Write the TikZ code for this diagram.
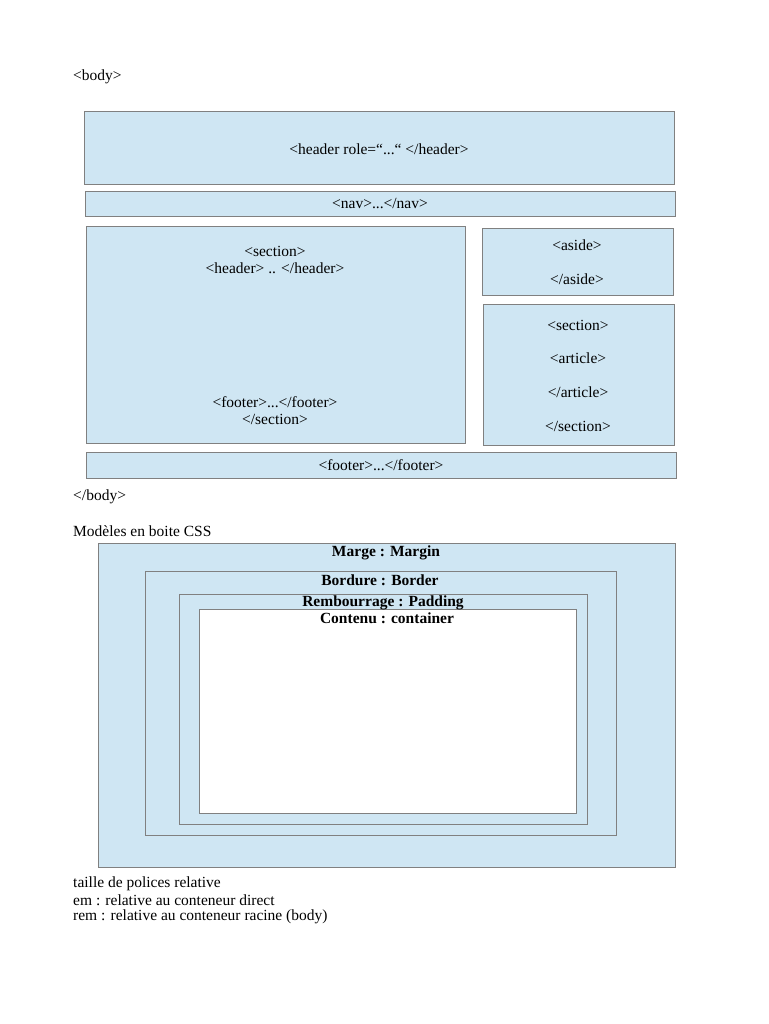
\documentclass[tikz,border=0pt]{standalone}
\usepackage{fontspec}
\setmainfont{Liberation Serif}
\usepackage{tikz}
\usepackage{color}

\definecolor{bleuclair}{RGB}{207,230,243}
\definecolor{grisbord}{RGB}{128,128,128}

\tikzset{
  boite/.style={draw=grisbord,fill=bleuclair,line width=0.8pt},
  contenu/.style={draw=grisbord,fill=white,line width=0.8pt},
  texte/.style={inner sep=0pt,font=\fontsize{15.5}{18}\selectfont},
  gauche/.style={texte,anchor=west},
  gras/.style={texte,font=\fontsize{15.5}{18}\selectfont\bfseries}
}

\begin{document}
\begin{tikzpicture}[x=1pt,y=-1pt]
    \useasboundingbox (0,0) rectangle (768,1024);
    % structure de la page
    \node[gauche] (body) at (73,77) {<body>};
    \draw[boite] (84,111) rectangle (674,184);
    \node[texte] (header) at (379,149) {<header role=“...“ </header>};
    \draw[boite] (85,191) rectangle (675,216);
    \node[texte] (nav) at (380,204) {<nav>...</nav>};
    \draw[boite] (86,226) rectangle (465,443);
    \node[texte] (secA) at (275,251) {<section>};
    \node[texte] (secB) at (275,268) {<header> .. </header>};
    \node[texte] (secC) at (275,402) {<footer>...</footer>};
    \node[texte] (secD) at (275,419) {</section>};
    \draw[boite] (482,228) rectangle (673,295);
    \node[texte] (asideA) at (577,245) {<aside>};
    \node[texte] (asideB) at (577,279) {</aside>};
    \draw[boite] (483,304) rectangle (674,445);
    \node[texte] (artA) at (578,325) {<section>};
    \node[texte] (artB) at (578,358) {<article>};
    \node[texte] (artC) at (578,392) {</article>};
    \node[texte] (artD) at (578,426) {</section>};
    \draw[boite] (86,452) rectangle (676,478);
    \node[texte] (footer) at (381,465) {<footer>...</footer>};
    \node[gauche] (finbody) at (73,497) {</body>};
    % modele en boite
    \node[gauche] (modeles) at (73,531) {Modèles en boite CSS};
    \draw[boite] (98,543) rectangle (675,867);
    \draw[boite] (145,571) rectangle (616,835);
    \draw[boite] (179,594) rectangle (587,824);
    \draw[contenu] (199,609) rectangle (576,813);
    \node[gras] (marge) at (386,553) {Marge : Margin};
    \node[gras] (bordure) at (380,580) {Bordure : Border};
    \node[gras] (padding) at (383,603) {Rembourrage : Padding};
    \node[gras] (cont) at (387,618) {Contenu : container};
    % tailles de police
    \node[gauche] (taille) at (73,884) {taille de polices relative};
    \node[gauche] (em) at (73,900) {em : relative au conteneur direct};
    \node[gauche] (rem) at (73,917) {rem : relative au conteneur racine (body)};
\end{tikzpicture}
\end{document}
